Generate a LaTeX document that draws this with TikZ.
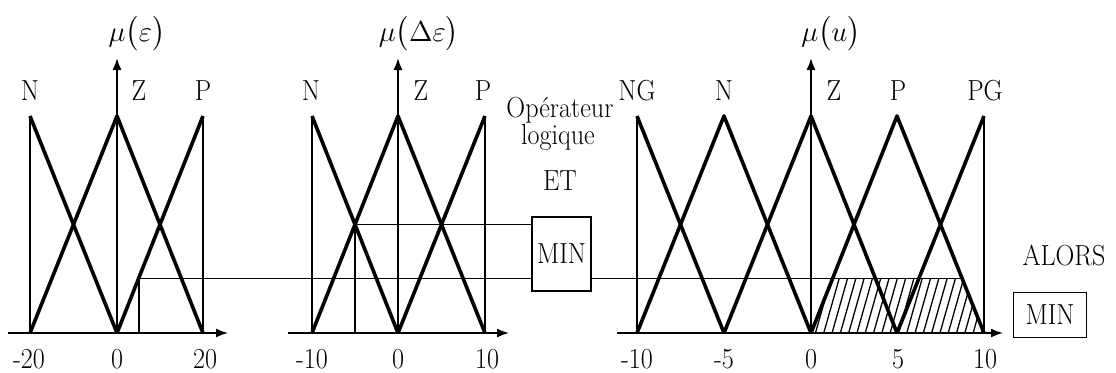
\documentclass[tikz,border=0pt]{standalone}
\usepackage{amsmath}
\usepackage{fontspec}
\newfontfamily\lblfont{Latin Modern Roman}[FakeStretch=0.9]
\usetikzlibrary{arrows.meta}

\begin{document}
\begin{tikzpicture}[x=0.5pt,y=-0.5pt,
  memb/.style={line width=1.8pt,line join=round},
  guide/.style={line width=0.7pt},
  axis/.style={line width=0.8pt,-{Latex[length=6pt,width=4.5pt]}},
  hatch/.style={line width=0.65pt},
  lbl/.style={font=\lblfont\fontsize{14.5}{12.5}\selectfont,inner sep=0pt,anchor=base},
  mulbl/.style={font=\fontsize{15.5}{16}\selectfont,inner sep=0pt},
  minbox/.style={draw,line width=0.7pt,inner sep=0pt,font=\lblfont\fontsize{14.5}{12.5}\selectfont}]
\useasboundingbox (0,0) rectangle (1116,372);

% erreur
\draw[axis] (8,333) -- (228,333);
\draw[axis] (117,333) -- (117,58);
\node[mulbl] (muE) at (137,34) {$\mu\bigl(\varepsilon\bigr)$};
\draw[memb] (30,116) -- (117,333);
\draw[memb] (30,333) -- (117,116) -- (203,333);
\draw[memb] (117,333) -- (203,116);
\draw[guide] (30,116) -- (30,333) (203,116) -- (203,333);
\node[lbl] (eN) at (30,100) {N};
\node[lbl] (eZ) at (139,100) {Z};
\node[lbl] (eP) at (203,100) {P};
\node[lbl] (eMin) at (29,368) {-20};
\node[lbl] (eZero) at (117,368) {0};
\node[lbl] (eMax) at (205,368) {20};

% variation de l'erreur
\draw[axis] (288,333) -- (509,333);
\draw[axis] (398,333) -- (398,58);
\node[mulbl] (muDE) at (419,34) {$\mu\bigl(\Delta\varepsilon\bigr)$};
\draw[memb] (312,116) -- (398,333);
\draw[memb] (312,333) -- (398,116) -- (485,333);
\draw[memb] (398,333) -- (485,116);
\draw[guide] (312,116) -- (312,333) (485,116) -- (485,333);
\node[lbl] (deN) at (311,100) {N};
\node[lbl] (deZ) at (421,100) {Z};
\node[lbl] (deP) at (483,100) {P};
\node[lbl] (deMin) at (312,368) {-10};
\node[lbl] (deZero) at (398,368) {0};
\node[lbl] (deMax) at (487,368) {10};

% operateur ET
\node[lbl] (opTxt) at (560,117) {Op\'erateur};
\node[lbl] (logTxt) at (558,144) {logique};
\node[lbl] (etTxt) at (560,190) {ET};
\node[minbox,minimum width=29.5pt,minimum height=37pt] (minET) at (561.5,254) {MIN};

% commande
\draw[axis] (617,333) -- (1003,333);
\draw[axis] (811,333) -- (811,58);
\node[mulbl] (muU) at (831,34) {$\mu\bigl(u\bigr)$};
\draw[memb] (637,116) -- (724,333);
\draw[memb] (637,333) -- (724,116) -- (811,333);
\draw[memb] (724,333) -- (811,116) -- (897,333);
\draw[memb] (811,333) -- (897,116) -- (984,333);
\draw[memb] (897,333) -- (984,116);
\draw[guide] (637,116) -- (637,333) (984,116) -- (984,333);
\node[lbl] (uNG) at (637,100) {NG};
\node[lbl] (uN) at (724,100) {N};
\node[lbl] (uZ) at (834,100) {Z};
\node[lbl] (uP) at (898,100) {P};
\node[lbl] (uPG) at (985,100) {PG};
\node[lbl] (uMin) at (637,368) {-10};
\node[lbl] (uHalfMin) at (724,368) {-5};
\node[lbl] (uZero) at (811,368) {0};
\node[lbl] (uHalfMax) at (898,368) {5};
\node[lbl] (uMax) at (985,368) {10};

% coupes
\coordinate (e0) at (139,333);
\coordinate (cutE) at (139,278.75);
\coordinate (de0) at (355,333);
\coordinate (cutDE) at (355,224.5);
\coordinate (clipP) at (962.3,278.75);
\draw[guide] (e0) -- (cutE) -- (cutE -| minET.west);
\draw[guide] (de0) -- (cutDE) -- (cutDE -| minET.west);
\draw[guide] (cutE -| minET.east) -- (clipP);

% P ecrete
\begin{scope}
\clip (811,333) -- (832.7,278.75) -- (clipP) -- (984,333) -- cycle;
\foreach \k in {0,...,24}
  \draw[hatch] ({798+8.3*\k},336) -- ++(17,-60);
\end{scope}

\node[lbl] (alors) at (1064,265) {ALORS};
\node[minbox,minimum width=36.5pt,minimum height=22.5pt] (minAlors) at (1050,315) {MIN};
\end{tikzpicture}
\end{document}
